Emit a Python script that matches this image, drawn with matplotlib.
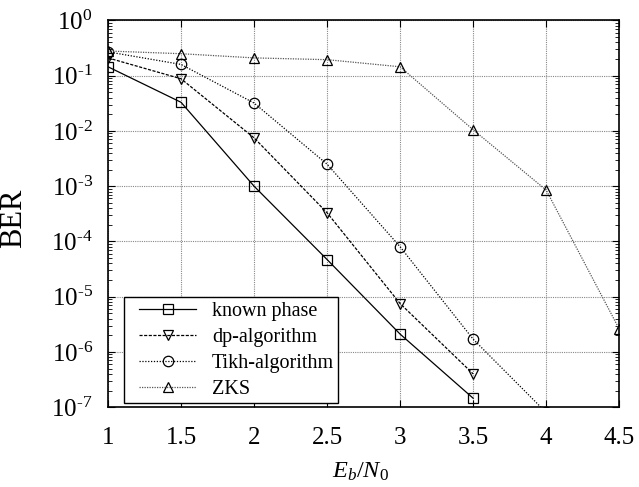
import matplotlib
matplotlib.use("Agg")
import matplotlib.pyplot as plt
from matplotlib.legend_handler import HandlerLine2D
from matplotlib.ticker import FixedLocator, LogLocator, NullFormatter

plt.rcParams.update(
    {
        "font.family": "Liberation Serif",
        "mathtext.fontset": "custom",
        "mathtext.rm": "Liberation Serif",
        "mathtext.it": "Liberation Serif:italic",
        "font.size": 14,
    }
)

EBN0 = [1.0, 1.5, 2.0, 2.5, 3.0, 3.5, 4.0, 4.5]
X_TICK_LABELS = ["1", "1.5", "2", "2.5", "3", "3.5", "4", "4.5"]
Y_EXPONENTS = [0, -1, -2, -3, -4, -5, -6, -7]

known_phase = [0.145, 0.033, 1.0e-3, 4.7e-5, 2.1e-6, 1.45e-7]
dp_algorithm = [0.21, 0.088, 7.5e-3, 3.3e-4, 7.5e-6, 4.0e-7]
tikh_algorithm = [0.27, 0.16, 0.032, 2.5e-3, 8.0e-5, 1.7e-6, 8.0e-8]
zks = [0.28, 0.25, 0.21, 0.195, 0.145, 0.0105, 8.5e-4, 2.6e-6]

fig, ax = plt.subplots(figsize=(6.39, 4.87), dpi=100)
fig.subplots_adjust(left=0.169, right=0.969, top=0.958, bottom=0.164)

mk = dict(markerfacecolor="none", markeredgecolor="black",
          markersize=7.5, markeredgewidth=0.9)
ax.plot(EBN0[:len(known_phase)], known_phase, color="black", lw=0.9,
        ls="-", marker="s", label="known phase", **mk)
ax.plot(EBN0[:len(dp_algorithm)], dp_algorithm, color="black", lw=0.9,
        ls=(0, (2.5, 1.2)), marker="v", label="dp-algorithm", **mk)
ax.plot(EBN0[:len(tikh_algorithm)], tikh_algorithm, color="black", lw=0.9,
        ls=(0, (1, 1.3)), marker="o", label="Tikh-algorithm", **mk)
ax.plot(EBN0[:len(zks)], zks, color="#555555", lw=0.9,
        ls=(0, (1, 1)), marker="^", label="ZKS", **mk)

ax.set_yscale("log")
ax.set_xlim(1, 4.5)
ax.set_ylim(1e-7, 1)
ax.set_xticks(EBN0)
ax.set_xticklabels(X_TICK_LABELS)
ax.yaxis.set_major_locator(FixedLocator([10.0 ** e for e in Y_EXPONENTS]))
ax.set_yticklabels([r"$10^{\text{%d}}$" % e for e in Y_EXPONENTS])
ax.yaxis.set_minor_locator(LogLocator(base=10, subs=range(2, 10), numticks=100))
ax.yaxis.set_minor_formatter(NullFormatter())

ax.tick_params(which="both", direction="in", top=True, right=True)
ax.tick_params(which="major", length=5, labelsize=18)
ax.tick_params(axis="x", which="major", pad=14)
ax.tick_params(axis="y", which="major", pad=11)
ax.tick_params(which="minor", length=3)

ax.grid(True, which="major", color="#888888", ls=(0, (1, 1)), lw=0.8)

ax.set_xlabel(r"$E_b/N_0$", fontsize=17.5)
ax.set_ylabel("BER", fontsize=22)
ax.xaxis.set_label_coords(0.493, -0.138)
ax.yaxis.set_label_coords(-0.157, 0.488)

for s in ax.spines.values():
    s.set_linewidth(1.2)

leg = ax.legend(loc="lower left", bbox_to_anchor=(0.031, 0.010), fontsize=14.5,
                fancybox=False, edgecolor="black", framealpha=1,
                handlelength=3.35, labelspacing=0.34, borderpad=0.22,
                handletextpad=0.8, borderaxespad=0.0,
                handler_map={plt.Line2D: HandlerLine2D(xpad=0.55)})
leg.get_frame().set_linewidth(1.0)

fig.savefig("out.png", dpi=100)
